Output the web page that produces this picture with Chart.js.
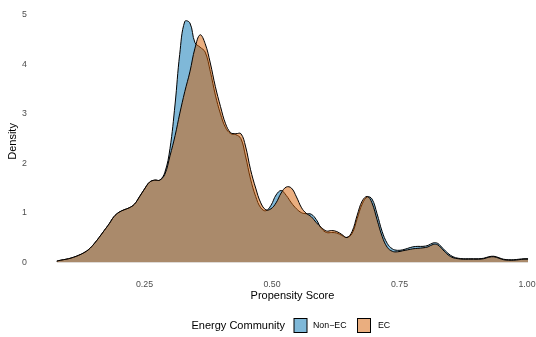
<!DOCTYPE html>
<html><head><meta charset="utf-8">
<script src="https://cdn.jsdelivr.net/npm/chart.js@4.4.1/dist/chart.umd.min.js"></script>
<style>
html,body{margin:0;padding:0;background:#fff;overflow:hidden;width:536px;height:337px}
#wrap{position:absolute;left:0;top:0;width:560px;height:337px}
</style>
</head><body><div id="wrap"><canvas id="c" width="560" height="337"></canvas></div>
<script>
const scores = [0.078,0.081,0.091,0.101,0.111,0.121,0.131,0.141,0.151,0.161,0.171,0.181,0.190,0.200,0.210,0.220,0.230,0.240,0.250,0.260,0.270,0.280,0.290,
0.300,0.310,0.319,0.329,0.339,0.349,0.359,0.369,0.379,0.389,0.399,0.409,0.419,0.429,0.439,0.448,0.458,0.468,0.478,0.488,
0.498,0.508,0.518,0.528,0.538,0.548,0.558,0.567,0.577,0.587,0.597,0.607,0.617,0.627,0.637,0.647,0.657,0.667,0.677,0.687,
0.696,0.706,0.716,0.726,0.736,0.746,0.756,0.766,0.776,0.786,0.796,0.806,0.816,0.825,0.835,0.845,0.855,0.865,0.875,0.885,
0.895,0.905,0.915,0.925,0.935,0.945,0.954,0.964,0.974,0.984,0.994,1.002];
const nonEC = [0.02,0.03,0.05,0.07,0.10,0.14,0.19,0.26,0.37,0.50,0.64,0.78,0.92,1.01,1.06,1.10,1.17,1.32,1.48,1.62,1.66,1.66,1.82,
2.30,3.20,4.20,4.87,4.84,4.44,4.35,4.25,3.86,3.38,3.00,2.72,2.60,2.58,2.50,2.15,1.68,1.33,1.10,1.04,
1.15,1.36,1.45,1.35,1.20,1.08,1.00,0.98,0.97,0.86,0.68,0.60,0.60,0.59,0.54,0.50,0.58,0.88,1.18,1.32,
1.28,0.98,0.62,0.38,0.27,0.24,0.25,0.28,0.31,0.32,0.32,0.34,0.39,0.38,0.28,0.18,0.11,0.08,0.07,0.07,
0.07,0.07,0.08,0.11,0.12,0.09,0.06,0.05,0.05,0.06,0.07,0.07];
const ec = [0.02,0.03,0.05,0.07,0.10,0.14,0.19,0.26,0.37,0.50,0.64,0.78,0.92,1.01,1.06,1.10,1.17,1.32,1.48,1.62,1.66,1.66,1.78,
2.15,2.56,3.00,3.45,3.85,4.33,4.60,4.42,4.03,3.55,3.15,2.80,2.62,2.60,2.60,2.35,1.87,1.50,1.20,1.06,
1.08,1.20,1.40,1.52,1.50,1.32,1.10,0.99,0.92,0.80,0.70,0.63,0.64,0.62,0.56,0.50,0.62,0.95,1.24,1.33,
1.20,0.86,0.52,0.30,0.22,0.21,0.23,0.25,0.27,0.28,0.29,0.31,0.36,0.35,0.25,0.15,0.09,0.07,0.06,0.06,
0.06,0.06,0.07,0.10,0.11,0.08,0.05,0.04,0.04,0.05,0.06,0.06];
const xTicks = [0.25,0.50,0.75,1.00];
const xTickLabels = ["0.25","0.50","0.75","1.00"];
const yTicks = [0,1,2,3,4,5];
const seriesNames = ["Non\u2212EC","EC"];
const legendTitle = "Energy Community";

const FONT = '"Liberation Sans", Arial, Helvetica, sans-serif';
const fills = ['rgba(0,114,178,0.5)','rgba(213,94,0,0.5)'];

const legendPlugin = {
  id:'ggLegend',
  afterDraw(chart){
    const ctx = chart.ctx;
    ctx.save();
    ctx.textBaseline = 'middle';
    ctx.fillStyle = '#000';
    ctx.font = '11px ' + FONT;
    ctx.fillText(legendTitle, 191.5, 325.5);
    const boxes = [[294,313],[357.5,378]];
    ctx.font = '8.8px ' + FONT;
    boxes.forEach((b,i)=>{
      ctx.fillStyle = fills[i];
      ctx.fillRect(b[0],318.5,13,14);
      ctx.strokeStyle = '#000';
      ctx.lineWidth = 1;
      ctx.strokeRect(b[0],318.5,13,14);
      ctx.fillStyle = '#000';
      ctx.fillText(seriesNames[i], b[1], 325.5);
    });
    ctx.restore();
  }
};

new Chart(document.getElementById('c'), {
  type:'line',
  data:{
    datasets:[
      {label:seriesNames[0], data:scores.map((x,i)=>({x:x,y:nonEC[i]})), order:1,
       backgroundColor:fills[0], borderColor:'#000', borderWidth:1, fill:'origin', pointRadius:0, tension:0.4},
      {label:seriesNames[1], data:scores.map((x,i)=>({x:x,y:ec[i]})), order:0,
       backgroundColor:fills[1], borderColor:'#000', borderWidth:1, fill:'origin', pointRadius:0, tension:0.4}
    ]
  },
  options:{
    responsive:false, animation:false, devicePixelRatio:1,
    layout:{padding:{left:0, top:3.4, right:8.4, bottom:34.9}},
    plugins:{legend:{display:false}, tooltip:{enabled:false}},
    scales:{
      x:{type:'linear', min:0.0322, max:1.0482,
        grid:{display:false, drawTicks:false}, border:{display:false},
        afterBuildTicks:(s)=>{s.ticks = xTicks.map(v=>({value:v}));},
        afterFit:(s)=>{s.height = 27.8;},
        ticks:{padding:4.9, color:'#4d4d4d', font:{family:FONT, size:8.8}, maxRotation:0, autoSkip:false,
          callback:(v)=>{const i = xTicks.indexOf(v); return i>=0 ? xTickLabels[i] : '';}},
        title:{display:true, text:'Propensity Score', color:'#000', font:{family:FONT, size:11}, padding:{top:0,bottom:0}}
      },
      y:{type:'linear', min:-0.245, max:5.13,
        grid:{display:false, drawTicks:false}, border:{display:false},
        afterBuildTicks:(s)=>{s.ticks = yTicks.map(v=>({value:v}));},
        afterFit:(s)=>{s.width = 33.4;},
        ticks:{padding:6.4, color:'#4d4d4d', font:{family:FONT, size:8.8, lineHeight:0.5}, callback:(v)=>String(v)},
        title:{display:true, text:'Density', color:'#000', font:{family:FONT, size:11}, padding:{top:6.7,bottom:0}}
      }
    }
  },
  plugins:[legendPlugin]
});
</script>
</body></html>
